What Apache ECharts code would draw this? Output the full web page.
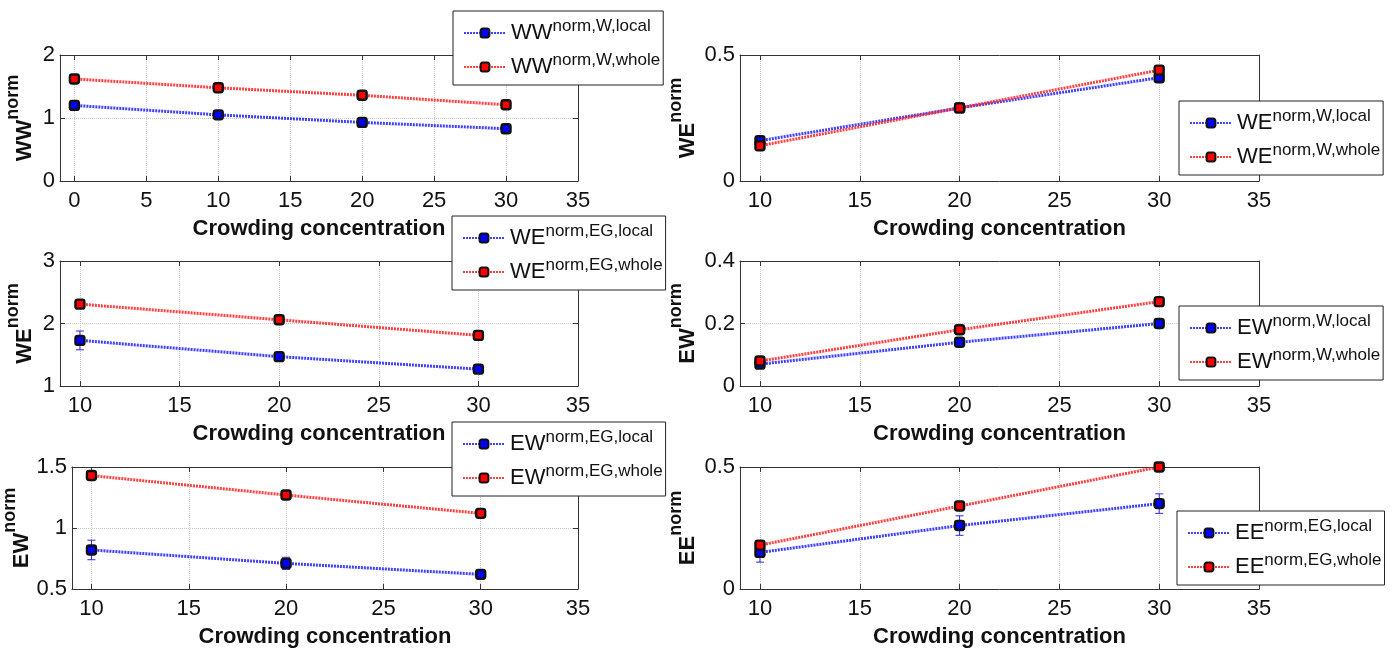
<!DOCTYPE html>
<html>
<head>
<meta charset="utf-8">
<script src="https://cdn.jsdelivr.net/npm/echarts@6/dist/echarts.min.js"></script>
<style>
html,body{margin:0;padding:0;background:#fff;}
#c{width:1393px;height:649px;}
</style>
</head>
<body>
<div id="c"></div>
<script>
// ---------------- data ----------------
const xWW = [0, 10, 20, 30];
const xConc = [10, 20, 30];

const wwWLocal = [1.20, 1.05, 0.93, 0.83];
const wwWWhole = [1.62, 1.48, 1.36, 1.21];

const weWLocal = [0.16, 0.29, 0.41];
const weWWhole = [0.14, 0.29, 0.44];

const weEGLocal = [1.73, 1.47, 1.27];
const weEGLocalErr = [0.15, 0.05, 0.03];
const weEGWhole = [2.31, 2.06, 1.81];

const ewWLocal = [0.07, 0.14, 0.20];
const ewWWhole = [0.08, 0.18, 0.27];

const ewEGLocal = [0.82, 0.71, 0.62];
const ewEGLocalErr = [0.08, 0.05, 0.02];
const ewEGWhole = [1.43, 1.27, 1.12];

const eeEGLocal = [0.15, 0.26, 0.35];
const eeEGLocalErr = [0.04, 0.04, 0.04];
const eeEGWhole = [0.18, 0.34, 0.50];

const xTitle = 'Crowding concentration';
const yNames = ['WW', 'WE', 'WE', 'EW', 'EW', 'EE'];
const ySup = 'norm';
const legendLocal = ['norm,W,local', 'norm,W,local', 'norm,EG,local', 'norm,W,local', 'norm,EG,local', 'norm,EG,local'];
const legendWhole = ['norm,W,whole', 'norm,W,whole', 'norm,EG,whole', 'norm,W,whole', 'norm,EG,whole', 'norm,EG,whole'];

// ---------------- panel setup ----------------
const panels = [
  { x: xWW,   local: wwWLocal,  whole: wwWWhole,  err: null,          xMin: -1, yMin: 0,   yMax: 2,   yInt: 1 },
  { x: xConc, local: weWLocal,  whole: weWWhole,  err: null,          xMin: 9,  yMin: 0,   yMax: 0.5, yInt: 0.5 },
  { x: xConc, local: weEGLocal, whole: weEGWhole, err: weEGLocalErr,  xMin: 9,  yMin: 1,   yMax: 3,   yInt: 1 },
  { x: xConc, local: ewWLocal,  whole: ewWWhole,  err: null,          xMin: 9,  yMin: 0,   yMax: 0.4, yInt: 0.2 },
  { x: xConc, local: ewEGLocal, whole: ewEGWhole, err: ewEGLocalErr,  xMin: 9,  yMin: 0.5, yMax: 1.5, yInt: 0.5 },
  { x: xConc, local: eeEGLocal, whole: eeEGWhole, err: eeEGLocalErr,  xMin: 9,  yMin: 0,   yMax: 0.5, yInt: 0.5 }
];
const layout = [
  { left: 60,  top: 55,  width: 518, height: 126, lgLeft: 453,  lgTop: 11,  nameGap: 15 },
  { left: 740, top: 55,  width: 519, height: 126, lgLeft: 1179, lgTop: 101, nameGap: 32 },
  { left: 60,  top: 261, width: 518, height: 125, lgLeft: 452,  lgTop: 216, nameGap: 15 },
  { left: 740, top: 261, width: 519, height: 125, lgLeft: 1179, lgTop: 306, nameGap: 32 },
  { left: 60,  top: 467, width: 518, height: 124, lgLeft: 452,  lgTop: 422, nameGap: 15 },
  { left: 740, top: 467, width: 519, height: 124, lgLeft: 1177, lgTop: 511, nameGap: 32 }
];

const FONT = 'Liberation Sans, Arial, Helvetica, sans-serif';
const AX = '#333';
const BLUE = 'rgb(30,30,255)';
const RED = 'rgb(255,30,30)';

const grids = [], xAxes = [], yAxes = [], series = [], legends = [];

panels.forEach((p, i) => {
  const L = layout[i];
  grids.push({ left: L.left, top: L.top, width: L.width, height: L.height, containLabel: false });

  const xBase = {
    type: 'value', gridIndex: i, min: p.xMin, max: 35, minInterval: 5, maxInterval: 5,
    axisLine: { show: true, onZero: false, lineStyle: { color: AX, width: 1 } },
    axisTick: { show: true, inside: true, length: 5, lineStyle: { color: AX } }
  };
  xAxes.push(Object.assign({}, xBase, {
    position: 'bottom',
    name: xTitle, nameLocation: 'middle', nameGap: 37,
    nameTextStyle: { fontFamily: FONT, fontSize: 22, fontWeight: 'bold', color: '#111' },
    axisLabel: { show: true, showMinLabel: false, margin: 9, fontFamily: FONT, fontSize: 22, color: '#111' },
    splitLine: { show: true, lineStyle: { color: '#c8c8c8', type: 'dotted', width: 1 } }
  }));
  xAxes.push(Object.assign({}, xBase, {
    position: 'top', axisLabel: { show: false }, splitLine: { show: false }
  }));

  const yBase = {
    type: 'value', gridIndex: i, min: p.yMin, max: p.yMax, interval: p.yInt,
    axisLine: { show: true, onZero: false, lineStyle: { color: AX, width: 1 } },
    axisTick: { show: true, inside: true, length: 5, lineStyle: { color: AX } }
  };
  yAxes.push(Object.assign({}, yBase, {
    position: 'left',
    name: '{m|' + yNames[i] + '}{s|' + ySup + '}',
    nameLocation: 'middle', nameRotate: 90, nameGap: L.nameGap,
    nameTextStyle: {
      fontFamily: FONT, color: '#111',
      rich: {
        m: { fontFamily: FONT, fontSize: 22, fontWeight: 'bold', color: '#111', lineHeight: 41, verticalAlign: 'middle' },
        s: { fontFamily: FONT, fontSize: 18, fontWeight: 'bold', color: '#111', lineHeight: 10, verticalAlign: 'top' }
      }
    },
    axisLabel: { show: true, margin: 5, fontFamily: FONT, fontSize: 22, color: '#111' },
    splitLine: { show: true, lineStyle: { color: '#c8c8c8', type: 'dotted', width: 1 } }
  }));
  yAxes.push(Object.assign({}, yBase, {
    position: 'right', axisLabel: { show: false }, splitLine: { show: false }
  }));

  const nameLocal = yNames[i] + '|' + legendLocal[i];
  const nameWhole = yNames[i] + '|' + legendWhole[i];

  if (p.err) {
    series.push({
      type: 'custom', name: 'err' + i, xAxisIndex: 2 * i, yAxisIndex: 2 * i, z: 1, silent: true,
      data: p.x.map((v, k) => [v, p.local[k] - p.err[k], p.local[k] + p.err[k]]),
      encode: { x: 0, y: [1, 2] },
      renderItem: function (params, api) {
        const xv = api.value(0);
        const a = api.coord([xv, api.value(1)]);
        const b = api.coord([xv, api.value(2)]);
        const w = 4;
        const st = { stroke: 'rgb(40,40,230)', lineWidth: 1 };
        return {
          type: 'group', children: [
            { type: 'line', shape: { x1: a[0], y1: a[1], x2: b[0], y2: b[1] }, style: st },
            { type: 'line', shape: { x1: a[0] - w, y1: a[1], x2: a[0] + w, y2: a[1] }, style: st },
            { type: 'line', shape: { x1: b[0] - w, y1: b[1], x2: b[0] + w, y2: b[1] }, style: st }
          ]
        };
      }
    });
  }
  [[nameLocal, p.local, BLUE, 'rgb(0,0,255)'], [nameWhole, p.whole, RED, 'rgb(255,0,0)']].forEach(([nm, vals, col, fill]) => {
    series.push({
      type: 'line', name: nm, xAxisIndex: 2 * i, yAxisIndex: 2 * i, z: 3,
      data: p.x.map((v, k) => [v, vals[k]]),
      symbol: 'roundRect', symbolSize: 9, showAllSymbol: true,
      lineStyle: { color: col, width: 3, type: [2, 1], opacity: 0.85 },
      itemStyle: { color: fill, borderColor: '#111', borderWidth: 2.4 },
      emphasis: { disabled: true }, animation: false
    });
  });

  legends.push({
    data: [nameLocal, nameWhole], orient: 'vertical', left: L.lgLeft, top: L.lgTop,
    padding: [7, 3, 7, 10], itemGap: 8, itemWidth: 42, itemHeight: 11,
    backgroundColor: '#fff', borderColor: '#222', borderWidth: 1, borderRadius: 0,
    selectedMode: false,
    formatter: function (n) { const s = n.split('|'); return '{m|' + s[0] + '}{s|' + s[1] + '}'; },
    textStyle: {
      fontFamily: FONT, color: '#111',
      rich: {
        m: { fontFamily: FONT, fontSize: 22, color: '#111', lineHeight: 30, verticalAlign: 'middle' },
        s: { fontFamily: FONT, fontSize: 17, color: '#111', lineHeight: 9, verticalAlign: 'top' }
      }
    }
  });
});

const chart = echarts.init(document.getElementById('c'), null, { renderer: 'canvas' });
chart.setOption({
  backgroundColor: '#fff',
  animation: false,
  grid: grids, xAxis: xAxes, yAxis: yAxes, series: series, legend: legends
});
</script>
</body>
</html>
